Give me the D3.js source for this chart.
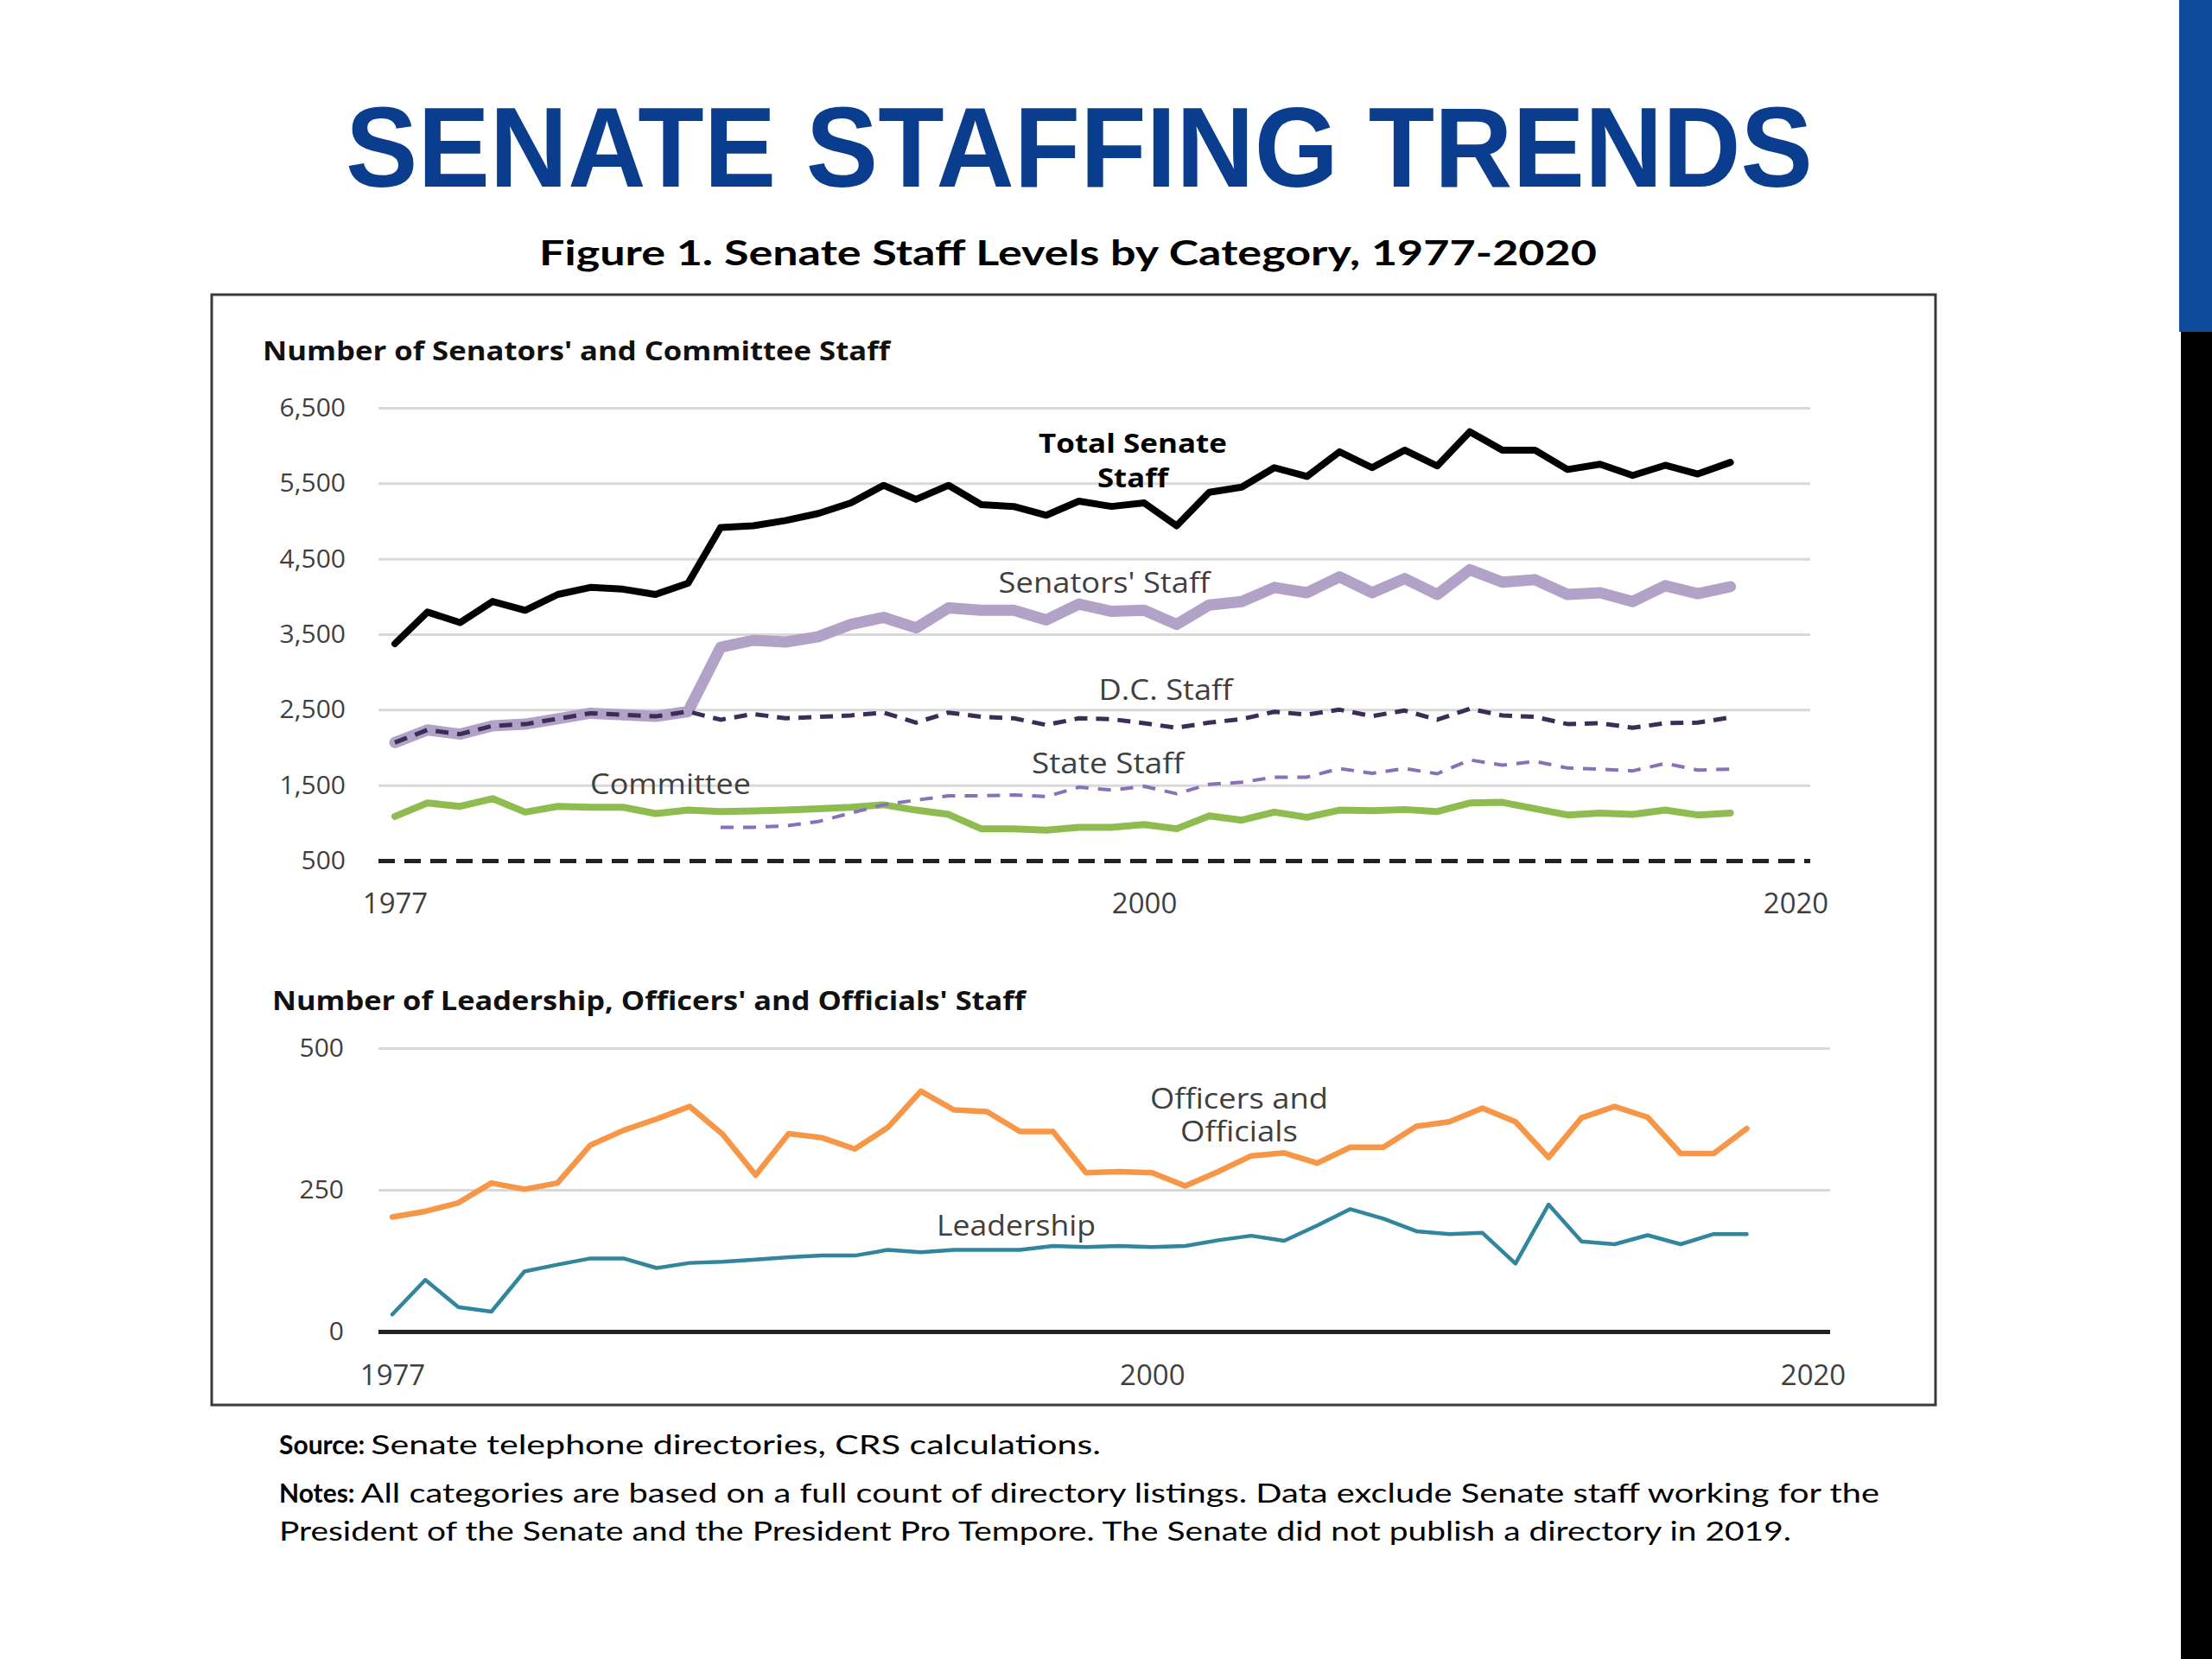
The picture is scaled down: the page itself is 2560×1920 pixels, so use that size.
<!DOCTYPE html>
<html>
<head>
<meta charset="utf-8">
<script src="https://cdn.jsdelivr.net/npm/d3@7"></script>
<style>
  body { margin: 0; background: #fff; }
  svg { display: block; }
</style>
</head>
<body>
<div id="divChart"></div>
<script>
// values, one entry per directory year
var years = [1977, 1978, 1979, 1980, 1981, 1982, 1983, 1984, 1985, 1986,
  1987, 1988, 1989, 1990, 1991, 1992, 1993, 1994, 1995, 1996,
  1997, 1998, 1999, 2000, 2001, 2002, 2003, 2004, 2005, 2006,
  2007, 2008, 2009, 2010, 2011, 2012, 2013, 2014, 2015, 2016,
  2017, 2018]

var totalStaff = [3374, 3794, 3654, 3934, 3817, 4027, 4120, 4097, 4027, 4176,
  4913, 4937, 5007, 5100, 5240, 5473, 5287, 5473, 5217, 5193,
  5077, 5263, 5193, 5240, 4937, 5380, 5450, 5707, 5590, 5917,
  5707, 5940, 5730, 6183, 5940, 5940, 5683, 5753, 5604, 5739,
  5623, 5777]

var senatorsStaff = [2065, 2232, 2176, 2286, 2308, 2380, 2453, 2432, 2411, 2475,
  3327, 3420, 3397, 3467, 3630, 3723, 3584, 3850, 3817, 3817,
  3690, 3900, 3803, 3817, 3630, 3887, 3933, 4120, 4050, 4260,
  4050, 4237, 4027, 4354, 4190, 4223, 4027, 4050, 3933, 4143,
  4037, 4130]

var dcStaff = [2065, 2232, 2176, 2286, 2308, 2380, 2453, 2432, 2411, 2475,
  2367, 2443, 2386, 2405, 2424, 2462, 2329, 2462, 2405, 2386,
  2298, 2386, 2375, 2321, 2260, 2329, 2375, 2473, 2435, 2500,
  2415, 2489, 2367, 2511, 2424, 2405, 2310, 2321, 2260, 2321,
  2329, 2397]

// state staff is only reported separately from 1987 on
var stateStaff = [null, null, null, null, null, null, null, null, null, null,
  941, 941, 960, 1017, 1131, 1240, 1302, 1359, 1359, 1370,
  1348, 1473, 1435, 1485, 1386, 1511, 1538, 1606, 1606, 1720,
  1657, 1720, 1651, 1834, 1765, 1815, 1727, 1712, 1689, 1788,
  1700, 1712]

var committeeStaff = [1086, 1264, 1219, 1321, 1143, 1219, 1207, 1207, 1124, 1169,
  1150, 1158, 1169, 1188, 1207, 1240, 1169, 1112, 922, 922,
  903, 941, 941, 979, 922, 1093, 1036, 1143, 1074, 1169,
  1162, 1177, 1150, 1264, 1272, 1188, 1105, 1131, 1112, 1169,
  1105, 1131]

var officersStaff = [202, 212, 227, 262, 251, 262, 329, 355, 375, 397,
  348, 276, 349, 342, 322, 360, 424, 391, 388, 353,
  353, 280, 282, 280, 257, 282, 310, 315, 297, 325,
  325, 362, 370, 394, 370, 307, 377, 397, 378, 314,
  314, 358]

var leadershipStaff = [30, 91, 43, 35, 106, 118, 129, 129, 112, 121,
  123, 127, 131, 134, 134, 144, 140, 144, 144, 144,
  151, 149, 151, 149, 151, 161, 169, 160, 187, 216,
  199, 177, 172, 174, 120, 224, 159, 154, 170, 154,
  172, 172]

// tick labels
var topTicks = [500, 1500, 2500, 3500, 4500, 5500, 6500]
var bottomTicks = [0, 250, 500]
var yearTicks = [1977, 2000, 2020]

var fontChart = "'Open Sans', 'Noto Sans', sans-serif"
var fontGill = "Lato, 'Open Sans', sans-serif"

var svg = d3
  .select('#divChart')
  .append('svg')
  .attr('width', 2560)
  .attr('height', 1920)

svg.append('rect').attr('width', 2560).attr('height', 1920).attr('fill', '#fff')

// squeeze/stretch a text to the width it has in the slide
function fit (sel, w) {
  return sel.attr('textLength', w).attr('lengthAdjust', 'spacingAndGlyphs')
}

function drawHeader () {
  // slide decoration on the right edge
  svg.append('rect').attr('x', 2522).attr('y', 0).attr('width', 38).attr('height', 384).attr('fill', '#0f4a9c')
  svg.append('rect').attr('x', 2524).attr('y', 384).attr('width', 36).attr('height', 1536).attr('fill', '#000')

  fit(svg.append('text')
    .attr('x', 400)
    .attr('y', 216)
    .attr('font-family', "'Liberation Sans', Arial, sans-serif")
    .attr('font-weight', 'bold')
    .attr('font-size', 132)
    .attr('fill', '#0b3d8e')
    .text('SENATE STAFFING TRENDS'), 1698)

  fit(svg.append('text')
    .attr('x', 624)
    .attr('y', 307)
    .attr('font-family', fontGill)
    .attr('font-weight', 'bold')
    .attr('font-size', 40)
    .attr('fill', '#000')
    .text('Figure 1. Senate Staff Levels by Category, 1977-2020'), 1224)

  svg.append('rect')
    .attr('x', 245).attr('y', 341)
    .attr('width', 1995).attr('height', 1285)
    .attr('fill', 'none')
    .attr('stroke', '#3a3a3a')
    .attr('stroke-width', 3)
}

function addSeries (g, values, x, y, color, width, dash) {
  var line = d3.line()
    .defined(function (d) { return d != null })
    .x(function (d, i) { return x(years[i]) })
    .y(function (d) { return y(d) })
  g.append('path')
    .datum(values)
    .attr('fill', 'none')
    .attr('stroke', color)
    .attr('stroke-width', width)
    .attr('stroke-linejoin', 'round')
    .attr('stroke-linecap', dash ? 'butt' : 'round')
    .attr('stroke-dasharray', dash || null)
    .attr('d', line)
}

function addLabel (g, txt, x, y, w, bold) {
  fit(g.append('text')
    .attr('x', x - w / 2)
    .attr('y', y)
    .attr('font-family', fontChart)
    .attr('font-size', bold ? 31 : 32)
    .attr('font-weight', bold ? 'bold' : 'normal')
    .attr('fill', bold ? '#000' : '#3f3f3f')
    .text(txt), w)
}

function drawPanel (opt) {
  var g = svg.append('g')
  var gridW = opt.gridRight - opt.gridLeft

  fit(g.append('text')
    .attr('x', opt.titleX)
    .attr('y', opt.titleY)
    .attr('font-family', fontChart)
    .attr('font-weight', 'bold')
    .attr('font-size', 30)
    .attr('fill', '#111')
    .text(opt.title), opt.titleW)

  // gridlines
  var grid = g.append('g')
    .attr('transform', 'translate(' + opt.gridLeft + ',0)')
    .call(d3.axisLeft(opt.y).tickValues(opt.ticks).tickSize(-gridW).tickFormat(''))
  grid.select('.domain').remove()
  grid.selectAll('line').attr('stroke', '#d9d9d9').attr('stroke-width', 3)
  grid.selectAll('.tick')
    .filter(function (d) { return d === opt.ticks[0] })
    .select('line')
    .attr('stroke', opt.baseColor)
    .attr('stroke-width', opt.baseWidth)
    .attr('stroke-dasharray', opt.baseDash)

  // y tick labels
  var yAx = g.append('g')
    .attr('transform', 'translate(' + opt.gridLeft + ',0)')
    .call(d3.axisLeft(opt.y).tickValues(opt.ticks).tickSize(0).tickPadding(opt.yPad).tickFormat(d3.format(',')))
  yAx.select('.domain').remove()
  yAx.selectAll('text').attr('font-family', fontChart).attr('font-size', 30).attr('fill', '#3f3f3f')

  // year labels
  var xAx = g.append('g')
    .attr('transform', 'translate(0,' + opt.y(opt.ticks[0]) + ')')
    .call(d3.axisBottom(opt.x).tickValues(yearTicks).tickSize(0).tickPadding(opt.xPad).tickFormat(d3.format('d')))
  xAx.select('.domain').remove()
  xAx.selectAll('text').attr('font-family', fontChart).attr('font-size', 33).attr('fill', '#3f3f3f')

  return g
}

function drawTop () {
  var x = d3.scaleLinear().domain([1977, 2020]).range([457, 2078])
  var y = d3.scaleLinear().domain([500, 6500]).range([996, 472])
  var g = drawPanel({
    x: x, y: y, ticks: topTicks,
    gridLeft: 438, gridRight: 2095,
    title: "Number of Senators' and Committee Staff", titleX: 304, titleY: 417, titleW: 726,
    baseColor: '#222', baseWidth: 5, baseDash: '19,11',
    yPad: 38, xPad: 38
  })

  addSeries(g, senatorsStaff, x, y, '#b3a2c7', 13)
  addSeries(g, dcStaff, x, y, '#3b2d57', 5, '15,10')
  addSeries(g, committeeStaff, x, y, '#8fbc4f', 8)
  addSeries(g, stateStaff, x, y, '#8a70b8', 4, '15,11')
  addSeries(g, totalStaff, x, y, '#000', 8)

  addLabel(g, 'Total Senate', 1311, 524, 218, true)
  addLabel(g, 'Staff', 1311, 564, 82, true)
  addLabel(g, "Senators' Staff", 1278, 686, 245)
  addLabel(g, 'D.C. Staff', 1349, 810, 155)
  addLabel(g, 'State Staff', 1282, 895, 176)
  addLabel(g, 'Committee', 776, 919, 186)
}

function drawBottom () {
  var x = d3.scaleLinear().domain([1977, 2020]).range([454, 2098])
  var y = d3.scaleLinear().domain([0, 500]).range([1541, 1213])
  var g = drawPanel({
    x: x, y: y, ticks: bottomTicks,
    gridLeft: 438, gridRight: 2118,
    title: "Number of Leadership, Officers' and Officials' Staff", titleX: 315, titleY: 1169, titleW: 872,
    baseColor: '#222', baseWidth: 5, baseDash: null,
    yPad: 40, xPad: 39
  })

  addSeries(g, officersStaff, x, y, '#f79646', 6.5)
  addSeries(g, leadershipStaff, x, y, '#31859c', 4.5)

  addLabel(g, 'Officers and', 1434, 1283, 206)
  addLabel(g, 'Officials', 1434, 1321, 136)
  addLabel(g, 'Leadership', 1176, 1430, 184)
}

function drawNotes () {
  var rows = [
    { y: 1683, lead: 'Source:', rest: 'Senate telephone directories, CRS calculations.', w: 951 },
    { y: 1739, lead: 'Notes:', rest: 'All categories are based on a full count of directory listings. Data exclude Senate staff working for the', w: 1852 },
    { y: 1783, lead: '', rest: 'President of the Senate and the President Pro Tempore. The Senate did not publish a directory in 2019.', w: 1750 }
  ]
  rows.forEach(function (r) {
    var x0 = 323
    var leadW = 0
    if (r.lead) {
      var b = svg.append('text')
        .attr('x', x0).attr('y', r.y)
        .attr('font-family', fontGill).attr('font-weight', 'bold')
        .attr('font-size', 30).attr('fill', '#000')
        .text(r.lead)
      leadW = b.node().getComputedTextLength() + 7
    }
    fit(svg.append('text')
      .attr('x', x0 + leadW).attr('y', r.y)
      .attr('font-family', fontGill)
      .attr('font-size', 30).attr('fill', '#000')
      .text(r.rest), r.w - leadW)
  })
}

drawHeader()
drawTop()
drawBottom()
drawNotes()
</script>
</body>
</html>
